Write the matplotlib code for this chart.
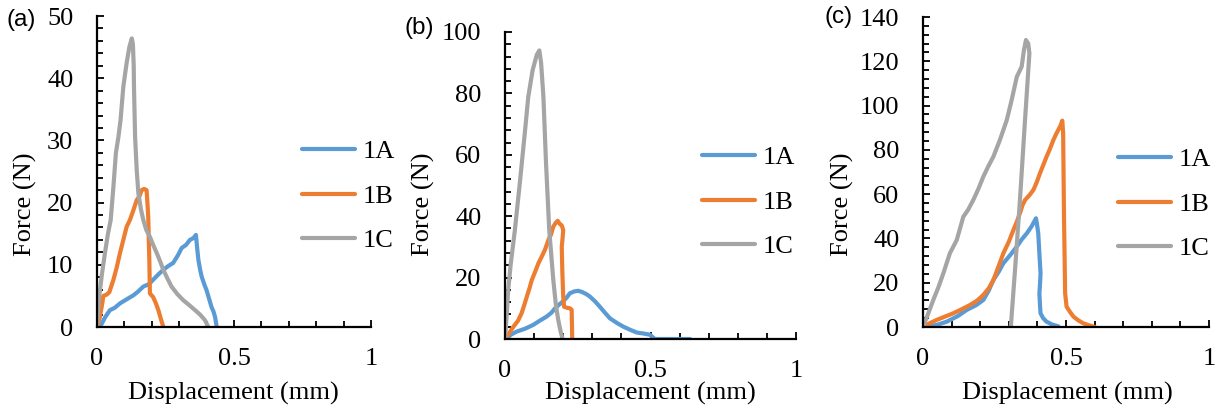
import matplotlib
matplotlib.use("Agg")
import matplotlib.pyplot as plt
from matplotlib.ticker import MultipleLocator, FixedLocator

# ---------------- data ----------------
# Panel (a)
a_1A_x = [0.011, 0.030, 0.047, 0.065, 0.084, 0.110, 0.133, 0.150, 0.169, 0.190, 0.205, 0.225, 0.242, 0.260, 0.278, 0.295, 0.309, 0.325, 0.339, 0.352, 0.361, 0.366, 0.370, 0.376, 0.382, 0.392, 0.400, 0.410, 0.418, 0.425, 0.431, 0.437]
a_1A_y = [0.0, 1.6, 2.7, 3.1, 3.8, 4.5, 5.1, 5.7, 6.5, 6.9, 7.6, 8.5, 9.2, 9.8, 10.3, 11.5, 12.7, 13.2, 14.0, 14.3, 14.8, 12.5, 10.8, 9.3, 8.1, 6.8, 5.9, 4.4, 3.2, 2.5, 1.6, 0.0]

a_1B_x = [0.0, 0.010, 0.020, 0.023, 0.035, 0.045, 0.060, 0.072, 0.084, 0.096, 0.108, 0.120, 0.133, 0.145, 0.155, 0.163, 0.172, 0.181, 0.184, 0.187, 0.189, 0.191, 0.193, 0.205, 0.215, 0.224, 0.233, 0.242]
a_1B_y = [0.0, 1.5, 4.0, 5.0, 5.2, 5.6, 7.6, 9.6, 11.9, 14.0, 16.1, 17.2, 18.8, 20.4, 21.0, 22.0, 22.2, 22.0, 20.0, 17.7, 14.0, 10.8, 5.4, 4.8, 3.8, 2.7, 1.3, 0.0]

a_1C_x = [0.0, 0.004, 0.008, 0.018, 0.029, 0.040, 0.050, 0.060, 0.069, 0.078, 0.086, 0.096, 0.108, 0.118, 0.127, 0.131, 0.134, 0.135, 0.137, 0.139, 0.145, 0.151, 0.160, 0.169, 0.180, 0.193, 0.205, 0.218, 0.230, 0.242, 0.257, 0.272, 0.293, 0.315, 0.337, 0.358, 0.376, 0.394, 0.406]
a_1C_y = [0.0, 2.5, 4.9, 8.5, 11.9, 15.0, 17.2, 22.6, 28.0, 30.5, 33.3, 38.6, 42.4, 45.0, 46.4, 45.5, 42.0, 38.6, 34.5, 30.6, 25.2, 21.5, 19.0, 17.2, 15.6, 14.5, 13.2, 11.9, 10.6, 9.2, 7.8, 6.5, 5.3, 4.3, 3.5, 2.7, 2.0, 1.1, 0.0]

# Panel (b)
b_1A_x = [0.005, 0.020, 0.040, 0.070, 0.097, 0.120, 0.143, 0.160, 0.172, 0.186, 0.200, 0.212, 0.223, 0.238, 0.252, 0.265, 0.280, 0.292, 0.310, 0.326, 0.343, 0.361, 0.385, 0.407, 0.430, 0.453, 0.475, 0.498, 0.515, 0.560, 0.600, 0.636]
b_1A_y = [0.0, 1.4, 2.4, 3.4, 4.6, 6.0, 7.3, 8.6, 10.0, 11.2, 12.3, 13.5, 14.9, 15.5, 15.7, 15.3, 14.6, 13.8, 12.2, 10.5, 8.6, 6.7, 5.2, 4.0, 3.0, 2.1, 1.8, 1.4, 0.0, 0.0, 0.0, 0.0]

b_1B_x = [0.0, 0.015, 0.029, 0.045, 0.057, 0.066, 0.075, 0.084, 0.092, 0.104, 0.115, 0.126, 0.137, 0.149, 0.158, 0.166, 0.174, 0.181, 0.188, 0.195, 0.200, 0.198, 0.195, 0.197, 0.200, 0.203, 0.212, 0.223, 0.229, 0.230, 0.231]
b_1B_y = [0.0, 2.0, 4.0, 6.0, 8.4, 11.0, 13.8, 16.5, 19.2, 22.0, 24.7, 26.8, 29.0, 32.2, 34.0, 36.6, 37.8, 38.5, 37.5, 37.0, 35.5, 33.0, 30.0, 22.0, 14.0, 10.5, 10.2, 10.0, 9.5, 5.0, 0.0]

b_1C_x = [0.0, 0.006, 0.011, 0.020, 0.034, 0.052, 0.069, 0.080, 0.095, 0.109, 0.118, 0.124, 0.132, 0.141, 0.152, 0.166, 0.175, 0.183, 0.191, 0.198]
b_1C_y = [0.0, 8.0, 16.0, 24.7, 35.5, 51.8, 68.0, 78.9, 87.6, 92.5, 94.0, 90.0, 78.9, 57.2, 35.5, 19.2, 11.0, 6.2, 2.5, 0.0]

# Panel (c)
c_1A_x = [0.013, 0.050, 0.083, 0.120, 0.153, 0.185, 0.211, 0.230, 0.246, 0.265, 0.281, 0.305, 0.328, 0.345, 0.363, 0.380, 0.395, 0.399, 0.403, 0.407, 0.411, 0.409, 0.407, 0.409, 0.411, 0.420, 0.432, 0.450, 0.473]
c_1A_y = [0.0, 1.0, 2.4, 4.8, 7.7, 9.8, 12.2, 16.5, 21.2, 25.0, 28.8, 32.5, 36.3, 39.5, 42.3, 45.5, 49.1, 46.0, 42.3, 33.0, 24.2, 19.0, 15.2, 10.0, 6.2, 4.0, 2.4, 1.2, 0.3]

c_1B_x = [0.0, 0.025, 0.048, 0.075, 0.106, 0.135, 0.164, 0.190, 0.211, 0.230, 0.246, 0.263, 0.281, 0.300, 0.316, 0.328, 0.339, 0.348, 0.357, 0.372, 0.386, 0.398, 0.409, 0.420, 0.432, 0.444, 0.456, 0.465, 0.473, 0.481, 0.487, 0.490, 0.493, 0.497, 0.502, 0.514, 0.526, 0.543, 0.560, 0.580, 0.601]
c_1B_y = [0.0, 1.8, 3.2, 4.6, 6.2, 8.0, 9.9, 12.0, 14.5, 17.5, 21.2, 27.0, 33.3, 38.5, 43.8, 47.5, 51.4, 55.0, 57.4, 59.5, 61.9, 65.5, 69.4, 73.0, 76.9, 80.5, 84.5, 87.0, 89.0, 91.0, 93.2, 87.5, 50.0, 15.2, 9.2, 6.8, 4.7, 3.0, 1.7, 0.8, 0.0]

c_1C_x = [0.0, 0.018, 0.036, 0.054, 0.071, 0.094, 0.118, 0.141, 0.158, 0.176, 0.194, 0.211, 0.228, 0.246, 0.269, 0.293, 0.310, 0.328, 0.345, 0.353, 0.360, 0.368, 0.372, 0.355, 0.339, 0.323, 0.307]
c_1C_y = [0.0, 6.0, 12.2, 18.0, 24.2, 33.3, 39.3, 49.8, 53.0, 57.4, 62.5, 67.9, 72.5, 76.9, 84.5, 93.5, 102.5, 113.0, 117.6, 125.1, 129.6, 128.0, 123.6, 90.0, 57.4, 28.0, 0.0]

series_labels = ["1A", "1B", "1C"]
colors = ["#5B9BD5", "#ED7D31", "#A5A5A5"]

panels = [
    dict(tag="(a)", data=[(a_1A_x, a_1A_y), (a_1B_x, a_1B_y), (a_1C_x, a_1C_y)],
         ymax=50, ymajor=10, yminor=2,
         rect=[97/1217, 1-327/408, (371-97)/1217, (327-16)/408],
         tagpos=(7/1217, 1-20/408), leg=(302/1217, 1-196/408),
         ylab_x=25/1217, xlab_x=233/1217),
    dict(tag="(b)", data=[(b_1A_x, b_1A_y), (b_1B_x, b_1B_y), (b_1C_x, b_1C_y)],
         ymax=100, ymajor=20, yminor=4,
         rect=[505/1217, 1-339/408, (796-505)/1217, (339-32)/408],
         tagpos=(405/1217, 1-28/408), leg=(702/1217, 1-202/408),
         ylab_x=423/1217, xlab_x=650/1217),
    dict(tag="(c)", data=[(c_1A_x, c_1A_y), (c_1B_x, c_1B_y), (c_1C_x, c_1C_y)],
         ymax=140, ymajor=20, yminor=4,
         rect=[923/1217, 1-327/408, (1209-923)/1217, (327-17)/408],
         tagpos=(824/1217, 1-17/408), leg=(1118/1217, 1-204/408),
         ylab_x=842/1217, xlab_x=1067/1217),
]

serif = ["Liberation Serif", "DejaVu Serif"]
sans = ["Liberation Sans", "DejaVu Sans"]
FS = 19

fig = plt.figure(figsize=(12.17, 4.08), dpi=100)

for p in panels:
    ax = fig.add_axes(p["rect"])
    handles = []
    for (xs, ys), lab, col in zip(p["data"], series_labels, colors):
        h, = ax.plot(xs, ys, color=col, lw=3.0, label=lab,
                     solid_capstyle="round", solid_joinstyle="round")
        handles.append(h)
    ax.set_xlim(0, 1)
    ax.set_ylim(0, p["ymax"])
    for s in ["top", "right"]:
        ax.spines[s].set_visible(False)
    for s in ["left", "bottom"]:
        ax.spines[s].set_linewidth(1.6)
    ax.xaxis.set_major_locator(FixedLocator([0, 0.5, 1]))
    ax.xaxis.set_minor_locator(MultipleLocator(0.1))
    ax.set_xticklabels(["0", "0.5", "1"])
    ax.yaxis.set_major_locator(MultipleLocator(p["ymajor"]))
    ax.yaxis.set_minor_locator(MultipleLocator(p["yminor"]))
    ax.tick_params(which="both", direction="in", width=1.3, labelsize=FS)
    ax.tick_params(axis="y", which="major", pad=17)
    ax.tick_params(axis="x", which="major", pad=15)
    ax.tick_params(which="major", length=5)
    ax.tick_params(which="minor", length=4.5)
    for t in ax.get_xticklabels() + ax.get_yticklabels():
        t.set_fontfamily(serif)
    ax.set_xlabel("Displacement (mm)", fontsize=FS, family=serif)
    ax.xaxis.set_label_coords(p["xlab_x"], 1 - 393/408, transform=fig.transFigure)
    ax.xaxis.label.set_verticalalignment("center")
    ax.set_ylabel("Force (N)", fontsize=FS, family=serif)
    ax.yaxis.set_label_coords(p["ylab_x"], 0.5, transform=fig.transFigure)
    ax.yaxis.label.set_verticalalignment("center")
    fig.text(p["tagpos"][0], p["tagpos"][1], p["tag"], fontsize=17.5, family=sans,
             ha="left", va="center")
    fig.legend(handles=handles, loc="center left", bbox_to_anchor=p["leg"],
               bbox_transform=fig.transFigure, frameon=False,
               prop=dict(family=serif, size=FS), handlelength=2.0,
               handletextpad=0.3, labelspacing=0.8, borderpad=0, borderaxespad=0)

fig.savefig("out.png", dpi=100)
